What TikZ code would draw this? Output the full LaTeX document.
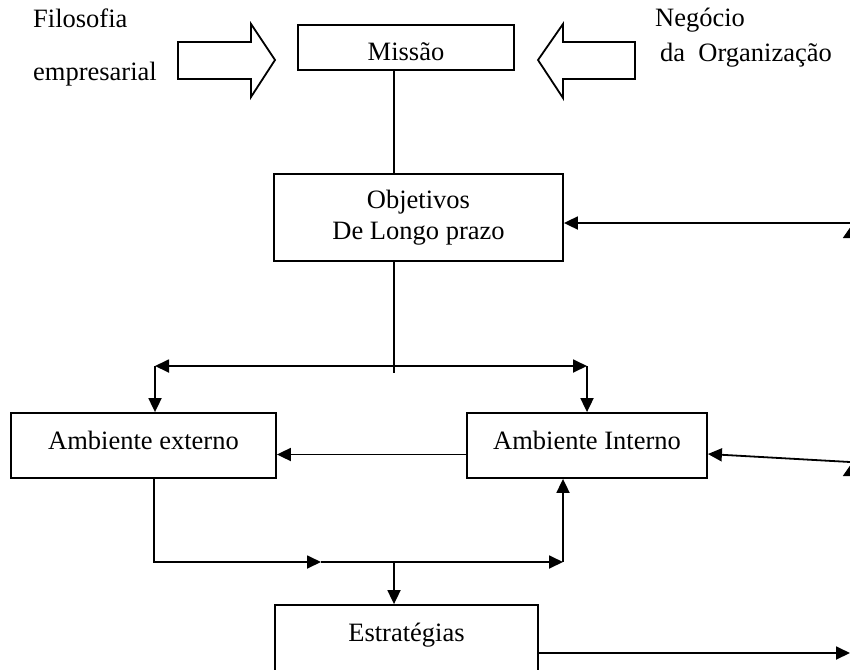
\documentclass[tikz,border=0pt]{standalone}
\usepackage{fontspec}
\setmainfont{Liberation Serif}
\usepackage{tikz}
\usetikzlibrary{arrows.meta, positioning}

\begin{document}
\begin{tikzpicture}[
  x=1pt, y=-1pt,
  box/.style={draw, line width=1.8pt, font=\fontsize{26.5}{31}\selectfont, align=center},
  lbl/.style={inner sep=0pt, font=\fontsize{26.5}{31}\selectfont},
  arrow/.style={-{Triangle[length=14pt, width=13pt]}, line width=1.8pt},
  wide/.style={-{Triangle[length=14pt, width=19pt]}, line width=1.8pt},
  line/.style={line width=1.8pt},
]
\useasboundingbox (0,0) rectangle (850,669);
\clip (0,0) rectangle (850,669);

% Mission and its inputs
\node[box, minimum width=216pt, minimum height=45pt, text height=25pt, text depth=0pt] (missao) at (406,47.5) {Missão};
\node[lbl, anchor=base west] (filosofia) at (33,28) {Filosofia};
\node[lbl, anchor=base west] (empresarial) at (33,80) {empresarial};
\node[lbl, anchor=base west] (negocio) at (655,27) {Negócio};
\node[lbl, anchor=base west] (organizacao) at (660,61) {da~~Organização};

% Hollow arrows
\draw[line, line join=miter] (178,42) -- (251,42) -- (251,24) -- (275,60) -- (251,97) -- (251,79) -- (178,79) -- cycle;
\draw[line, line join=miter] (635,42) -- (563,42) -- (563,24) -- (538,60) -- (563,98) -- (563,79) -- (635,79) -- cycle;

% Objectives
\node[box, minimum width=289pt, minimum height=87pt] (objetivos) at (418.5,217.5) {Objetivos\\De Longo prazo};

% Environments
\node[box, minimum width=265pt, minimum height=65pt, text depth=11pt] (externo) at (143.5,445.5) {Ambiente externo};
\node[box, minimum width=240pt, minimum height=65pt, text depth=11pt] (interno) at (587,445.5) {Ambiente Interno};

% Strategies
\node[box, minimum width=263pt, minimum height=95pt, text height=18pt, text depth=41pt] (estrategias) at (406.5,652.5) {Estratégias};

% Junction points
\coordinate (split) at (394,366);
\coordinate (splitend) at (394,373);
\coordinate (splitL) at (155,366);
\coordinate (splitR) at (587,366);
\coordinate (joinL) at (154,562);
\coordinate (joinM) at (321,562);
\coordinate (joinC) at (394,562);
\coordinate (joinR) at (563,562);

% Free ends at the right edge
\coordinate (fbtop) at (850,223);
\coordinate (fbmid) at (850,462);
\coordinate (fbout) at (850,653);
\coordinate (ctlA) at (852.5,700);
\coordinate (ctlB) at (852.5,462);
\coordinate (ctlC) at (852.5,224);

% Arrows
\draw[line] (missao.south -| split) -- (objetivos.north -| split);
\draw[line] (objetivos.south -| split) -- (splitend);
\draw[arrow] (split) -- (splitL);
\draw[arrow] (split) -- (splitR);
\draw[arrow] (splitL) -- (splitL |- externo.north);
\draw[arrow] (splitR) -- (splitR |- interno.north);
\draw[arrow] ([yshift=-9pt]interno.west) -- ([yshift=-9pt]externo.east);
\draw[arrow] (externo.south -| joinL) -- (joinL) -- (joinM);
\draw[arrow] (joinM) -- (joinR);
\draw[arrow] (joinR) -- (joinR |- interno.south);
\draw[arrow] (joinC) -- (joinC |- estrategias.north);
\draw[arrow] (estrategias.east |- fbout) -- (fbout);
\draw[arrow] (fbtop) -- (objetivos.east |- fbtop);
\draw[arrow] (fbmid) -- ([yshift=-8.5pt]interno.east);
\draw[wide] (ctlA) -- (ctlB);
\draw[wide] (ctlB) -- (ctlC);

\end{tikzpicture}
\end{document}
